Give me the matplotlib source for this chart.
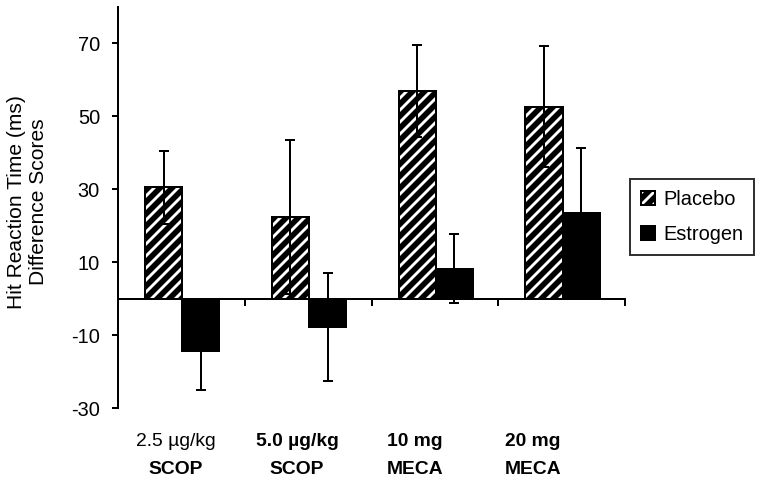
import matplotlib
matplotlib.use("Agg")
import matplotlib.pyplot as plt
import numpy as np
from matplotlib.transforms import blended_transform_factory
from matplotlib.patches import Patch

plt.rcParams['font.family'] = ['Liberation Sans', 'DejaVu Sans']
plt.rcParams['hatch.linewidth'] = 2.8
plt.rcParams['axes.unicode_minus'] = False

categories_line1 = ["2.5 µg/kg", "5.0 µg/kg", "10 mg", "20 mg"]
categories_line2 = ["SCOP", "SCOP", "MECA", "MECA"]
line1_bold = [False, True, True, True]
series_names = ["Placebo", "Estrogen"]
placebo = [30.5, 22.4, 57.0, 52.7]
placebo_err = [10.0, 21.0, 12.7, 16.6]
estrogen = [-14.4, -7.8, 8.2, 23.5]
estrogen_err = [10.7, 14.8, 9.5, 17.9]
yticks = [-30, -10, 10, 30, 50, 70]

W, H = 762, 487
DPI = 144
fig = plt.figure(figsize=(W / DPI, H / DPI), dpi=DPI)
ax = fig.add_axes([118 / W, 1 - 408 / H, (625 - 118) / W, (408 - 7) / H])

n = len(placebo)
x = np.arange(n)
bw = 0.293
xp = x + 0.507 - bw / 2
xe = x + 0.507 + bw / 2

ax.bar(xp, placebo, width=bw, color='white', edgecolor='black', hatch='////',
       linewidth=1.0, zorder=2)
ax.bar(xe, estrogen, width=bw, color='black', edgecolor='black',
       linewidth=1.0, zorder=2)
ax.errorbar(xp, placebo, yerr=placebo_err, fmt='none', ecolor='black',
            elinewidth=1.0, capsize=2.6, capthick=1.0, zorder=3)
ax.errorbar(xe, estrogen, yerr=estrogen_err, fmt='none', ecolor='black',
            elinewidth=1.0, capsize=2.6, capthick=1.0, zorder=1)

ax.set_xlim(0, n)
ax.set_ylim(-30, 80)
ax.set_yticks(yticks)
ax.set_xticks(np.arange(1, n + 1))
ax.set_xticklabels([])
for s in ['top', 'right']:
    ax.spines[s].set_visible(False)
ax.spines['bottom'].set_position(('data', 0))
ax.spines['bottom'].set_zorder(4)
ax.spines['left'].set_linewidth(1.0)
ax.spines['bottom'].set_linewidth(1.0)
ax.tick_params(axis='y', direction='out', length=3, width=1.0, labelsize=10,
               pad=6)
ax.tick_params(axis='x', direction='out', length=3.5, width=1.0)

# category labels
trans = blended_transform_factory(ax.transData, fig.transFigure)
label_x = [0.457, 1.412, 2.343, 3.274]
for i in range(n):
    ax.text(label_x[i], 1 - 441.7 / H, categories_line1[i], transform=trans,
            ha='center', va='center', fontsize=9.6,
            fontweight='bold' if line1_bold[i] else 'normal')
    ax.text(label_x[i], 1 - 470 / H, categories_line2[i], transform=trans,
            ha='center', va='center', fontsize=9.6, fontweight='bold')

fig.text(28 / W, 1 - 202 / H, "Hit Reaction Time (ms)\nDifference Scores",
         rotation=90, ha='center', va='center', multialignment='center',
         fontsize=10.5, linespacing=1.2)

handles = [Patch(facecolor='white', edgecolor='black', hatch='////', linewidth=1.0),
           Patch(facecolor='black', edgecolor='black', linewidth=1.0)]
leg = fig.legend(handles, series_names, loc='upper left',
                 bbox_to_anchor=(630 / W, 1 - 179 / H),
                 bbox_transform=fig.transFigure, fontsize=10,
                 frameon=True, fancybox=False, edgecolor='black',
                 handlelength=0.7, handleheight=0.7, handletextpad=0.4,
                 borderpad=0.55, labelspacing=0.8, borderaxespad=0)
leg.get_frame().set_linewidth(1.0)

fig.savefig("out.png", dpi=DPI)
